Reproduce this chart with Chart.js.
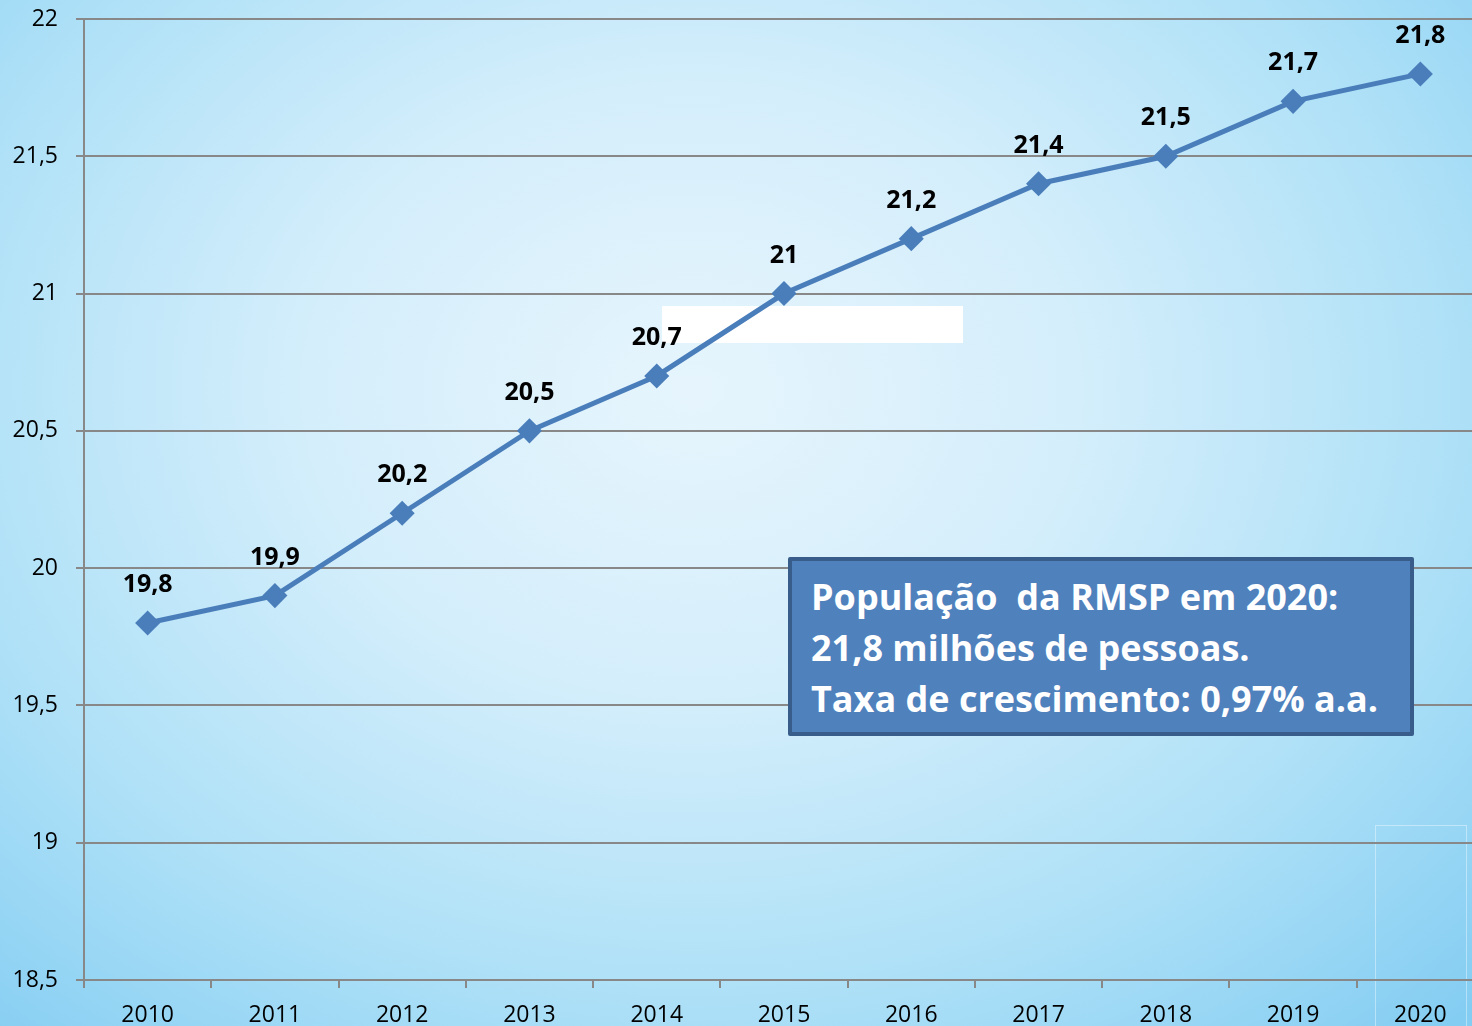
<!DOCTYPE html>
<html>
<head>
<meta charset="utf-8">
<script src="https://cdn.jsdelivr.net/npm/chart.js@4"></script>
<style>
  html, body { margin: 0; padding: 0; width: 1472px; height: 1026px; overflow: hidden; }
  body {
    position: relative;
    background: radial-gradient(ellipse 75% 85% at 47% 38%, #e6f5fd 0%, #d4eefb 35%, #ade0f7 70%, #84cdf2 100%);
    font-family: "Open Sans", sans-serif;
  }
  #tapa { position: absolute; left: 662px; top: 306px; width: 301px; height: 37px; background: #fff; }
  #moldura { position: absolute; left: 1375px; top: 825px; width: 90px; height: 220px;
    border: 1px solid rgba(255,255,255,0.4); border-bottom: none; }
  #grafico { position: absolute; left: 0; top: 0; }
  #caixa {
    position: absolute; left: 788px; top: 557px; width: 626px; height: 179px;
    background: #4f81bd; border: 4px solid #385d8a; border-radius: 2px;
    color: #fff; font-weight: bold; font-size: 36px; line-height: 51px;
    padding: 10px 0 0 19px; box-sizing: border-box;
    white-space: pre;
  }
</style>
</head>
<body>
<div id="tapa"></div>
<div id="moldura"></div>
<canvas id="grafico" width="1498" height="1026"></canvas>
<div id="caixa">População  da RMSP em 2020:
21,8 milhões de pessoas.
Taxa de crescimento: 0,97% a.a.</div>
<script>
const anos = ["2010", "2011", "2012", "2013", "2014", "2015", "2016", "2017", "2018", "2019", "2020"];
const populacao = [19.8, 19.9, 20.2, 20.5, 20.7, 21, 21.2, 21.4, 21.5, 21.7, 21.8];
const eixoMin = 18.5;
const eixoMax = 22;
const passo = 0.5;

function virgula(v) {
    return String(v).replace('.', ',');
}

// rotulos em negrito acima de cada ponto
const rotulos = {
    id: 'rotulos',
    afterDatasetsDraw(chart) {
        const ctx = chart.ctx;
        const meta = chart.getDatasetMeta(0);
        ctx.save();
        ctx.font = 'bold 25px "Open Sans"';
        ctx.fillStyle = '#000';
        ctx.textAlign = 'center';
        ctx.textBaseline = 'middle';
        meta.data.forEach((pt, i) => {
            ctx.fillText(virgula(populacao[i]), pt.x, pt.y - 38);
        });
        ctx.restore();
    }
};

const ctx = document.getElementById('grafico').getContext('2d');

new Chart(ctx, {
    type: 'line',
    data: {
        labels: anos,
        datasets: [{
            data: populacao,
            borderColor: '#4a7ebb',
            backgroundColor: '#4a7ebb',
            borderWidth: 5,
            pointStyle: 'rectRot',
            pointRadius: 9,
            pointHoverRadius: 9,
            tension: 0
        }]
    },
    options: {
        responsive: false,
        animation: false,
        layout: { padding: { top: 19, right: 0, bottom: 0, left: 0 } },
        plugins: {
            legend: { display: false },
            tooltip: { enabled: false }
        },
        scales: {
            x: {
                offset: true,
                afterFit: s => { s.height = 46; s.paddingLeft = 0; s.paddingRight = 0; },
                grid: { offset: true, drawOnChartArea: false, drawTicks: true, tickLength: 8, color: '#888', lineWidth: 2 },
                border: { color: '#888', width: 2 },
                ticks: { color: '#000', font: { family: 'Open Sans', size: 23 }, padding: 14, maxRotation: 0 }
            },
            y: {
                min: eixoMin,
                max: eixoMax,
                afterFit: s => { s.width = 84; s.paddingTop = 0; s.paddingBottom = 0; },
                grid: { color: '#888', lineWidth: 2, tickLength: 8 },
                border: { color: '#888', width: 2 },
                ticks: {
                    stepSize: passo,
                    color: '#000',
                    font: { family: 'Open Sans', size: 23 },
                    padding: 18,
                    callback: v => virgula(v)
                }
            }
        }
    },
    plugins: [rotulos]
});
</script>
</body>
</html>
